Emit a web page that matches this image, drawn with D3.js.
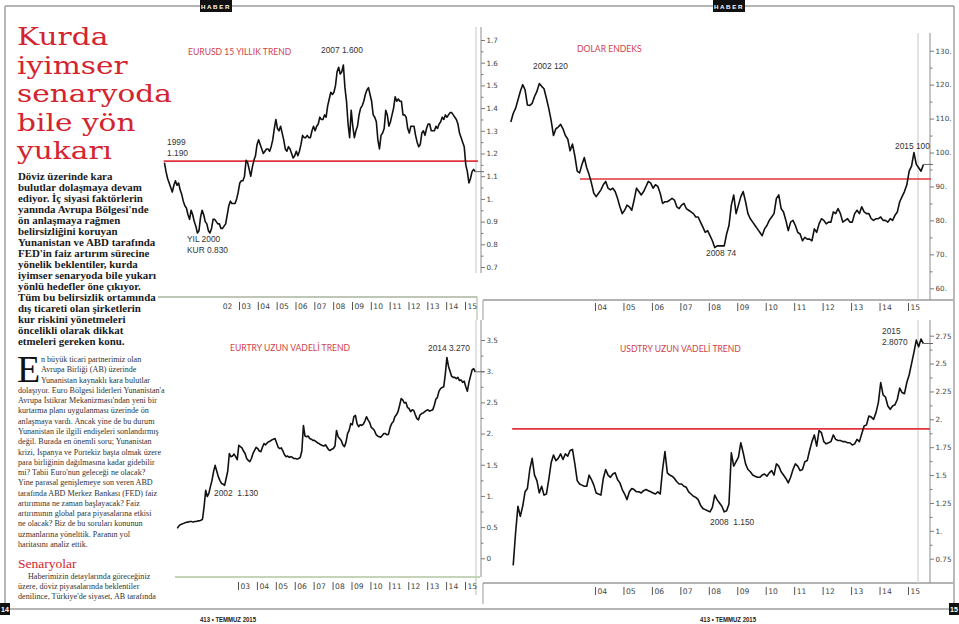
<!DOCTYPE html>
<html lang="tr">
<head>
<meta charset="utf-8">
<title>Kurda iyimser senaryoda bile yön yukarı</title>
<script src="https://cdn.jsdelivr.net/npm/d3@7/dist/d3.min.js"></script>
<style>
html,body{margin:0;padding:0;background:#fff;overflow:hidden}
svg{display:block}
</style>
</head>
<body>
<svg id="page" width="959" height="624" xmlns="http://www.w3.org/2000/svg"></svg>
<script>
// ======================= DATA =======================
// EURUSD, monthly, Jan 1999 - Jul 2015
const eurusdStart = [1999, 1];
const eurusdValues = [
  1.16,1.12,1.09,1.07,1.05,1.03,1.06,1.08,1.06,1.07,1.04,1.02,
  0.99,0.97,0.96,0.93,0.91,0.95,0.93,0.90,0.88,0.85,0.86,0.92,
  0.95,0.93,0.90,0.89,0.86,0.85,0.87,0.91,0.91,0.90,0.89,0.89,
  0.87,0.87,0.88,0.89,0.93,0.97,0.99,0.98,0.98,0.98,1.00,1.03,
  1.07,1.08,1.08,1.10,1.17,1.16,1.13,1.10,1.14,1.17,1.19,1.24,
  1.26,1.24,1.22,1.20,1.21,1.22,1.22,1.21,1.23,1.26,1.31,1.35,
  1.31,1.30,1.32,1.29,1.26,1.22,1.21,1.23,1.22,1.20,1.18,1.19,
  1.21,1.19,1.21,1.24,1.28,1.27,1.27,1.28,1.27,1.27,1.30,1.32,
  1.30,1.32,1.33,1.36,1.35,1.35,1.37,1.36,1.41,1.44,1.47,1.46,
  1.47,1.50,1.56,1.58,1.55,1.56,1.59,1.49,1.43,1.33,1.27,1.39,
  1.32,1.27,1.30,1.32,1.37,1.40,1.41,1.43,1.46,1.48,1.49,1.46,
  1.43,1.37,1.36,1.34,1.26,1.22,1.28,1.29,1.31,1.39,1.37,1.32,
  1.34,1.37,1.40,1.45,1.43,1.44,1.43,1.43,1.37,1.37,1.36,1.31,
  1.29,1.32,1.32,1.32,1.28,1.25,1.23,1.24,1.29,1.30,1.28,1.31,
  1.33,1.33,1.30,1.30,1.30,1.32,1.31,1.33,1.34,1.36,1.35,1.37,
  1.36,1.37,1.38,1.38,1.37,1.36,1.35,1.33,1.29,1.27,1.25,1.23,
  1.15,1.12,1.07,1.09,1.12,1.13,1.12
];
const eurusdLevel = 1.166;
const eurusdLevelFrom = 1999.0;
const eurusdTicks = [0.7,0.8,0.9,1.0,1.1,1.2,1.3,1.4,1.5,1.6,1.7];
const eurusdTickLabels = ["0.7","0.8","0.9","1.","1.1","1.2","1.3","1.4","1.5","1.6","1.7"];
const eurusdMinor = [0.75,0.85,0.95,1.05,1.15,1.25,1.35,1.45,1.55,1.65];
const eurusdYears = [2002,2003,2004,2005,2006,2007,2008,2009,2010,2011,2012,2013,2014,2015];

// Dollar index, monthly, Jan 2001 - Jul 2015
const dxyStart = [2001, 1];
const dxyValues = [
  109.0,111.5,113.0,115.5,118.0,120.0,118.5,114.0,113.9,114.5,116.5,118.0,
  120.3,119.5,118.8,116.0,113.0,109.5,105.0,107.0,107.5,108.3,107.0,105.0,
  104.0,100.5,102.5,99.0,94.5,94.0,96.5,98.5,95.5,93.5,91.0,88.0,
  87.0,88.0,89.0,90.5,91.5,89.5,89.0,89.5,88.5,86.5,84.0,82.0,
  83.0,84.5,84.0,83.0,86.0,89.5,88.5,87.5,88.5,90.0,91.5,91.0,
  89.5,90.5,90.0,88.0,85.0,85.5,85.5,86.0,86.5,86.0,84.0,83.5,
  84.5,85.0,83.5,83.0,82.5,82.0,81.0,81.0,79.5,78.0,76.5,77.0,
  75.5,74.0,72.0,72.5,72.5,72.5,72.5,76.0,78.5,84.5,87.5,82.0,
  84.5,87.0,88.5,85.5,82.0,80.5,79.5,78.5,77.5,76.5,75.5,77.5,
  78.5,80.0,81.0,82.0,86.5,87.5,83.5,82.5,80.0,77.0,79.5,80.0,
  78.5,76.5,76.0,74.0,75.0,74.5,74.5,74.0,77.5,76.5,79.0,80.5,
  80.0,79.0,79.5,79.5,82.5,82.0,83.5,82.0,79.5,80.0,80.5,79.5,
  79.5,82.0,83.0,82.0,84.0,82.5,82.0,82.0,80.5,80.0,80.5,80.5,
  81.0,80.0,80.0,79.5,80.5,80.0,81.5,82.5,85.5,87.0,88.5,90.5,
  94.5,96.0,100.0,96.5,95.5,94.5,96.5
];
const dxyLevel = 92.2;
const dxyLevelFrom = 2003.47;
const dxyTicks = [60,70,80,90,100,110,120,130];
const dxyTickLabels = ["60.","70.","80.","90.","100.","110.","120.","130."];
const dxyMinor = [65,75,85,95,105,115,125];
const dxyYears = [2004,2005,2006,2007,2008,2009,2010,2011,2012,2013,2014,2015];

// EURTRY, monthly, Oct 1999 - Jul 2015
const eurtryStart = [1999, 10];
const eurtryValues = [
  0.48,0.52,0.54,
  0.55,0.56,0.57,0.58,0.58,0.59,0.59,0.58,0.59,0.59,0.60,0.60,
  0.61,0.63,0.83,1.09,0.99,1.04,1.15,1.25,1.39,1.49,1.40,1.31,
  1.25,1.20,1.19,1.17,1.28,1.40,1.68,1.63,1.64,1.67,1.63,1.58,
  1.81,1.79,1.77,1.72,1.68,1.60,1.57,1.55,1.60,1.68,1.73,1.78,
  1.76,1.72,1.71,1.78,1.84,1.82,1.85,1.87,1.88,1.90,1.91,1.92,
  1.85,1.78,1.76,1.77,1.72,1.66,1.63,1.64,1.62,1.63,1.62,1.60,
  1.60,1.59,1.60,1.62,1.72,2.13,1.96,1.95,1.96,1.92,1.91,1.89,
  1.89,1.87,1.85,1.84,1.82,1.81,1.80,1.82,1.78,1.74,1.73,1.75,
  1.76,1.80,2.05,1.95,1.92,1.89,1.82,1.79,1.86,2.00,2.05,2.16,
  2.14,2.27,2.29,2.16,2.11,2.14,2.13,2.15,2.20,2.27,2.22,2.18,
  2.10,2.08,2.05,1.99,1.96,1.95,1.94,1.97,2.00,2.00,1.98,1.99,
  2.10,2.16,2.19,2.27,2.30,2.35,2.45,2.56,2.54,2.49,2.50,2.42,
  2.40,2.35,2.38,2.37,2.30,2.24,2.22,2.30,2.32,2.33,2.35,2.37,
  2.38,2.36,2.37,2.38,2.45,2.55,2.58,2.68,2.72,2.74,2.75,2.95,
  3.22,3.08,3.00,2.92,2.90,2.90,2.88,2.90,2.85,2.86,2.82,2.84,
  2.75,2.68,2.82,2.92,3.02,3.04,2.99
];
const eurtryTicks = [0,0.5,1,1.5,2,2.5,3,3.5];
const eurtryTickLabels = ["0","0.5","1.","1.5","2.","2.5","3.","3.5"];
const eurtryMinor = [0.25,0.75,1.25,1.75,2.25,2.75,3.25];
const eurtryYears = [2003,2004,2005,2006,2007,2008,2009,2010,2011,2012,2013,2014,2015];

// USDTRY, monthly, Feb 2001 - Jul 2015
const usdtryStart = [2001, 2];
const usdtryValues = [
  0.69,0.98,1.22,1.13,1.22,1.35,1.38,1.55,1.65,1.50,1.45,
  1.34,1.40,1.32,1.33,1.46,1.61,1.68,1.63,1.65,1.69,1.64,1.69,
  1.67,1.72,1.73,1.60,1.45,1.42,1.41,1.40,1.40,1.50,1.46,1.41,
  1.34,1.33,1.32,1.47,1.55,1.50,1.48,1.51,1.52,1.46,1.43,1.37,
  1.33,1.28,1.35,1.38,1.37,1.35,1.35,1.34,1.36,1.37,1.36,1.35,
  1.34,1.33,1.35,1.33,1.55,1.71,1.52,1.50,1.49,1.47,1.44,1.42,
  1.42,1.40,1.39,1.35,1.33,1.31,1.30,1.28,1.23,1.20,1.19,1.18,
  1.17,1.21,1.32,1.28,1.25,1.22,1.17,1.18,1.24,1.70,1.58,1.62,
  1.66,1.79,1.70,1.60,1.55,1.53,1.50,1.49,1.48,1.48,1.50,1.51,
  1.49,1.52,1.54,1.50,1.60,1.58,1.53,1.50,1.47,1.43,1.48,1.55,
  1.60,1.58,1.54,1.55,1.62,1.63,1.72,1.80,1.86,1.76,1.90,1.88,
  1.80,1.78,1.79,1.80,1.86,1.82,1.81,1.81,1.80,1.80,1.79,1.79,
  1.77,1.78,1.82,1.80,1.87,1.94,1.95,2.03,2.02,2.00,2.06,2.15,
  2.33,2.22,2.20,2.12,2.09,2.12,2.13,2.18,2.28,2.24,2.23,2.33,
  2.40,2.50,2.60,2.71,2.65,2.72,2.68
];
const usdtryLevel = 1.914;
const usdtryLevelFrom = 2001.09;
const usdtryTicks = [0.75,1,1.25,1.5,1.75,2,2.25,2.5,2.75];
const usdtryTickLabels = ["0.75","1.","1.25","1.5","1.75","2.","2.25","2.5","2.75"];
const usdtryMinor = [0.875,1.125,1.375,1.625,1.875,2.125,2.375,2.625];
const usdtryYears = [2004,2005,2006,2007,2008,2009,2010,2011,2012,2013,2014,2015];

// ======================= TEXT =======================
const titleLines = ["Kurda","iyimser","senaryoda","bile yön","yukarı"];
const introLines = [
  "Döviz üzerinde kara","bulutlar dolaşmaya devam","ediyor. İç siyasi faktörlerin",
  "yanında Avrupa Bölgesi'nde","ön anlaşmaya rağmen","belirsizliğini koruyan",
  "Yunanistan ve ABD tarafında","FED'in faiz artırım sürecine","yönelik beklentiler, kurda",
  "iyimser senaryoda bile yukarı","yönlü hedefler öne çıkıyor.","Tüm bu belirsizlik ortamında",
  "dış ticareti olan şirketlerin","kur riskini yönetmeleri","öncelikli olarak dikkat",
  "etmeleri gereken konu."
];
const bodyLines = [
  "n büyük ticari partnerimiz olan","Avrupa Birliği (AB) üzerinde","Yunanistan kaynaklı kara bulutlar",
  "dolaşıyor. Euro Bölgesi liderleri Yunanistan'a","Avrupa İstikrar Mekanizması'ndan yeni bir",
  "kurtarma planı uygulanması üzerinde ön","anlaşmaya vardı. Ancak yine de bu durum",
  "Yunanistan ile ilgili endişeleri sonlandırmış","değil. Burada en önemli soru; Yunanistan",
  "krizi, İspanya ve Portekiz başta olmak üzere","para birliğinin dağılmasına kadar gidebilir",
  "mi? Tabii Euro'nun geleceği ne olacak?","Yine parasal genişlemeye son veren ABD",
  "tarafında ABD Merkez Bankası (FED) faiz","artırımına ne zaman başlayacak? Faiz",
  "artırımının global para piyasalarına etkisi","ne olacak? Biz de bu soruları konunun",
  "uzmanlarına yönelttik. Paranın yol","haritasını analiz ettik."
];
const senaryoLines = [
  "Haberimizin detaylarında göreceğiniz","üzere, döviz piyasalarında beklentiler",
  "denilince, Türkiye'de siyaset, AB tarafında"
];

// ======================= DRAW =======================
const svg = d3.select("#page");
const SERIF = "'Liberation Serif','Times New Roman',serif";
const SANS = "'Liberation Sans',Arial,sans-serif";
const VERD = "'DejaVu Sans',Verdana,sans-serif";
const CAL = "Lato,'Open Sans',sans-serif";
const RED = "#d3242f";
const CHART_RED = "#d2434c";

svg.append("rect").attr("width", 959).attr("height", 624).attr("fill", "#fff");

// page frame
const frame = svg.append("g").attr("stroke", "#9c9c9c").attr("stroke-width", 1.4).attr("fill", "none");
frame.append("line").attr("x1", 5).attr("x2", 954).attr("y1", 6).attr("y2", 6);
frame.append("line").attr("x1", 5).attr("x2", 5).attr("y1", 6).attr("y2", 609);
frame.append("line").attr("x1", 954).attr("x2", 954).attr("y1", 6).attr("y2", 609);
frame.append("line").attr("x1", 5).attr("x2", 954).attr("y1", 609).attr("y2", 609);

// header tabs
[[200, 216], [713, 729]].forEach(([bx, cx]) => {
  svg.append("rect").attr("x", bx).attr("y", 0).attr("width", 32).attr("height", 12).attr("fill", "#111");
  svg.append("text").attr("x", cx).attr("y", 8.6).attr("text-anchor", "middle")
    .attr("font-family", SANS).attr("font-weight", "bold").attr("font-size", 6.2)
    .attr("letter-spacing", 1.6).attr("fill", "#fff").text("HABER");
});

// page numbers
[[0, "14"], [949, "15"]].forEach(([px, t]) => {
  svg.append("rect").attr("x", px).attr("y", 603).attr("width", 10).attr("height", 12).attr("fill", "#111");
  svg.append("text").attr("x", px + 5).attr("y", 611.5).attr("text-anchor", "middle")
    .attr("font-family", SANS).attr("font-weight", "bold").attr("font-size", 7).attr("fill", "#fff").text(t);
});

// footers
[200, 700].forEach(fx => {
  svg.append("text").attr("x", fx).attr("y", 622).attr("font-family", SANS).attr("font-weight", "bold")
    .attr("font-size", 6.5).attr("fill", "#222").attr("textLength", 56).attr("lengthAdjust", "spacingAndGlyphs")
    .text("413 • TEMMUZ 2015");
});

// multi-line text block helper (one <text> with tspans)
function block(parent, lines, opts) {
  const t = parent.append("text").attr("font-family", opts.font).attr("font-size", opts.size)
    .attr("fill", opts.fill).attr("font-weight", opts.weight || "normal");
  t.selectAll("tspan").data(lines).join("tspan")
    .attr("x", (d, i) => opts.x(i)).attr("y", (d, i) => opts.y0 + i * opts.lh).text(d => d);
  return t;
}

// headline: wide slab-like serif (extended horizontally, tight leading)
const head = svg.append("g").attr("transform", "translate(17,0) scale(1.22,1)");
block(head, titleLines, { font: "'DejaVu Serif',serif", size: 24.3, fill: RED, x: () => 0, y0: 45, lh: 28.6 });

// intro
block(svg, introLines, { font: SERIF, size: 10.9, fill: "#1a1a1a", weight: "bold", x: () => 18, y0: 179.5, lh: 11.02 });

// drop cap
svg.append("text").attr("x", 17).attr("y", 382).attr("font-family", SERIF).attr("font-size", 38)
  .attr("fill", "#111").text("E");

// body
block(svg, bodyLines, { font: SERIF, size: 8.1, fill: "#333", x: i => i < 3 ? 41 : 18, y0: 362, lh: 10.28 });

// Senaryolar
svg.append("text").attr("x", 18).attr("y", 567.5).attr("font-family", SERIF).attr("font-size", 13.5)
  .attr("fill", RED).text("Senaryolar");
block(svg, senaryoLines, { font: SERIF, size: 8.1, fill: "#333", x: i => i === 0 ? 28 : 18, y0: 578.5, lh: 10.28 });

function drawChart(c) {
  const g = svg.append("g");
  const x = d3.scaleLinear().domain(c.xDomain).range(c.xRange);
  const y = d3.scaleLinear().domain(c.yDomain).range(c.yRange);
  const pts = c.values.map((v, i) => ({ t: c.start[0] + (c.start[1] - 1 + i + 0.5) / 12, v }));

  // x baseline + corner stub
  g.append("line").attr("x1", c.baseX[0]).attr("x2", c.baseX[1]).attr("y1", c.baseY).attr("y2", c.baseY)
    .attr("stroke", c.baseColor).attr("stroke-width", 1.3);
  g.append("line").attr("x1", c.stubX).attr("x2", c.stubX).attr("y1", c.baseY).attr("y2", c.stubY2)
    .attr("stroke", c.baseColor).attr("stroke-width", 1);

  // current-date vertical
  g.append("line").attr("x1", c.nowX).attr("x2", c.nowX).attr("y1", c.nowY[0]).attr("y2", c.nowY[1])
    .attr("stroke", "#d0d0d0").attr("stroke-width", 1.2);

  // y axis
  const ax = g.append("g").attr("transform", `translate(${c.axisX},0)`);
  ax.append("line").attr("y1", c.axisY[0]).attr("y2", c.axisY[1]).attr("stroke", "#8c8c8c").attr("stroke-width", 1);
  ax.append("g").call(d3.axisRight(y).tickValues(c.minor).tickSize(2.5).tickFormat(""))
    .call(s => s.select(".domain").remove());
  ax.append("g").call(d3.axisRight(y).tickValues(c.ticks).tickSize(4).tickPadding(1.5)
      .tickFormat((d, i) => c.tickLabels[i]))
    .call(s => s.select(".domain").remove())
    .attr("font-family", VERD).attr("font-size", 7.2);
  ax.selectAll(".tick line").attr("stroke", "#7a7a7a");
  ax.selectAll(".tick text").attr("fill", "#444");

  // red level
  if (c.level != null) {
    g.append("line").attr("x1", x(c.levelFrom)).attr("x2", c.levelTo)
      .attr("y1", y(c.level)).attr("y2", y(c.level)).attr("stroke", "#e2333c").attr("stroke-width", 1.7);
  }

  // price line
  g.append("path").datum(pts).attr("fill", "none").attr("stroke", "#111").attr("stroke-width", 1.6)
    .attr("stroke-linejoin", "round")
    .attr("d", d3.line().x(d => x(d.t)).y(d => y(d.v)));

  // last value marker
  const last = pts[pts.length - 1];
  g.append("line").attr("x1", x(last.t)).attr("x2", c.axisX + 3).attr("y1", y(last.v)).attr("y2", y(last.v))
    .attr("stroke", "#666").attr("stroke-width", 1);

  // x labels
  const xg = g.append("g").attr("transform", `translate(0,${c.labelY})`)
    .call(d3.axisBottom(x).tickValues(c.years).tickSize(0).tickPadding(0)
      .tickFormat(d => String(d % 100).padStart(2, "0")));
  xg.select(".domain").remove();
  xg.attr("font-family", VERD).attr("font-size", 7.6);
  xg.selectAll(".tick line").attr("y1", -4).attr("y2", 4).attr("stroke", "#555");
  xg.selectAll(".tick text").attr("x", 2).attr("y", 0).attr("dy", "0.36em").attr("text-anchor", "start").attr("fill", "#444");
  if (c.noFirstTick) xg.select(".tick line").remove();

  // title + notes
  g.append("text").attr("x", c.title.x).attr("y", c.title.y).attr("font-family", CAL).attr("font-size", 8.6)
    .attr("fill", CHART_RED).text(c.title.t);
  c.notes.forEach(n => g.append("text").attr("x", n.x).attr("y", n.y).attr("font-family", SANS)
    .attr("font-size", 8.4).attr("fill", "#333").attr("xml:space", "preserve").text(n.t));
}

drawChart({
  values: eurusdValues, start: eurusdStart,
  xDomain: [2003, 2015], xRange: [239, 465],
  yDomain: [0.7, 1.7], yRange: [267, 40],
  ticks: eurusdTicks, tickLabels: eurusdTickLabels, minor: eurusdMinor, years: eurusdYears,
  level: eurusdLevel, levelFrom: eurusdLevelFrom, levelTo: 478,
  axisX: 481, axisY: [27, 273], nowX: 476, nowY: [27, 273],
  baseX: [158, 477], baseY: 297, baseColor: "#a8b59c", stubX: 477, stubY2: 320,
  labelY: 306, noFirstTick: true,
  title: { t: "EURUSD 15 YILLIK TREND", x: 188, y: 55 },
  notes: [
    { t: "2007 1.600", x: 321, y: 53 },
    { t: "1999", x: 167, y: 145 }, { t: "1.190", x: 167, y: 156 },
    { t: "YIL 2000", x: 187, y: 242 }, { t: "KUR 0.830", x: 187, y: 253 }
  ]
});

drawChart({
  values: dxyValues, start: dxyStart,
  xDomain: [2004, 2015], xRange: [595, 908],
  yDomain: [60, 130], yRange: [288.3, 50.7],
  ticks: dxyTicks, tickLabels: dxyTickLabels, minor: dxyMinor, years: dxyYears,
  level: dxyLevel, levelFrom: dxyLevelFrom, levelTo: 931,
  axisX: 930, axisY: [33, 300], nowX: 918, nowY: [33, 300],
  baseX: [483, 953], baseY: 300, baseColor: "#9a9a9a", stubX: 483, stubY2: 320,
  labelY: 307,
  title: { t: "DOLAR ENDEKS", x: 577, y: 52 },
  notes: [
    { t: "2002 120", x: 533, y: 69 },
    { t: "2008 74", x: 706, y: 256 },
    { t: "2015 100", x: 895, y: 149 }
  ]
});

drawChart({
  values: eurtryValues, start: eurtryStart,
  xDomain: [2003, 2015], xRange: [238, 465],
  yDomain: [0, 3.5], yRange: [558.3, 340],
  ticks: eurtryTicks, tickLabels: eurtryTickLabels, minor: eurtryMinor, years: eurtryYears,
  level: null,
  axisX: 481, axisY: [320, 577], nowX: 476, nowY: [320, 577],
  baseX: [175, 480], baseY: 577, baseColor: "#b2c4a0", stubX: 476, stubY2: 595,
  labelY: 586,
  title: { t: "EURTRY UZUN VADELİ TREND", x: 230, y: 351 },
  notes: [
    { t: "2014 3.270", x: 428, y: 351 },
    { t: "2002  1.130", x: 214, y: 496 }
  ]
});

drawChart({
  values: usdtryValues, start: usdtryStart,
  xDomain: [2004, 2015], xRange: [595, 908],
  yDomain: [0.75, 2.75], yRange: [558.7, 335.7],
  ticks: usdtryTicks, tickLabels: usdtryTickLabels, minor: usdtryMinor, years: usdtryYears,
  level: usdtryLevel, levelFrom: usdtryLevelFrom, levelTo: 930,
  axisX: 930, axisY: [320, 583], nowX: 918, nowY: [320, 583],
  baseX: [483, 953], baseY: 583, baseColor: "#9a9a9a", stubX: 483, stubY2: 604,
  labelY: 591,
  title: { t: "USDTRY UZUN VADELİ TREND", x: 620, y: 352 },
  notes: [
    { t: "2015", x: 882, y: 334 }, { t: "2.8070", x: 882, y: 345 },
    { t: "2008  1.150", x: 710, y: 525 }
  ]
});
</script>
</body>
</html>
